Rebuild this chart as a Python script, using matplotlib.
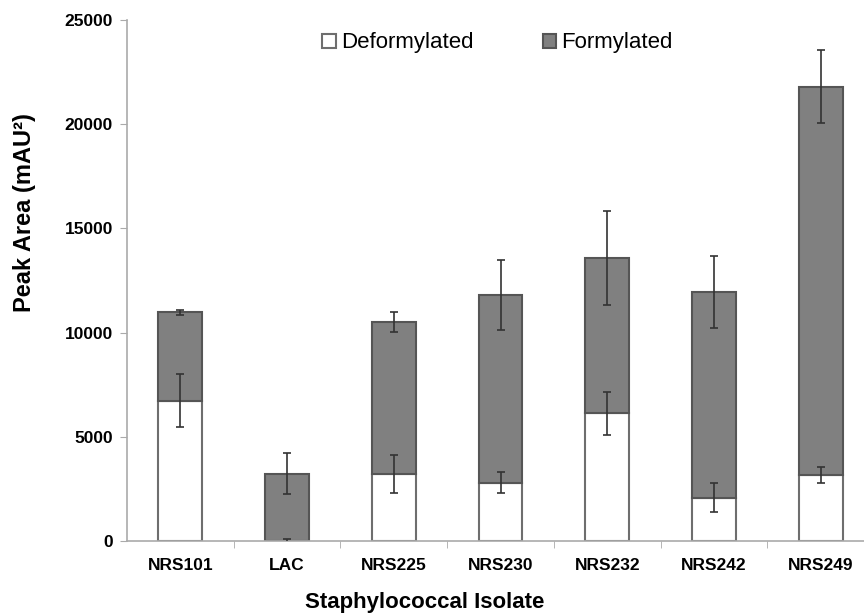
import matplotlib.pyplot as plt
import numpy as np

plt.rcParams['font.family'] = ['Liberation Sans', 'DejaVu Sans']

isolates = ['NRS101', 'LAC', 'NRS225', 'NRS230', 'NRS232', 'NRS242', 'NRS249']
deformylated = [6730, 0, 3200, 2790, 6120, 2070, 3160]
deformylated_err = [1270, 100, 910, 500, 1010, 690, 390]
formylated = [4240, 3235, 7320, 9015, 7460, 9895, 18640]
total_err = [130, 980, 470, 1680, 2240, 1730, 1750]

x = np.arange(len(isolates))
totals = np.array(deformylated) + np.array(formylated)

fig = plt.figure(figsize=(8.64, 6.13), dpi=100)
# right edge runs past the figure, as in the cropped original
ax = fig.add_axes([127 / 864, 72 / 613, 747 / 864, 521 / 613])

w = 0.41
ax.bar(x, deformylated, w, color='white', edgecolor='#6e6e6e', linewidth=1.5,
       label='Deformylated', zorder=2)
ax.bar(x, formylated, w, bottom=deformylated, color='#808080', edgecolor='#555555',
       linewidth=1.5, label='Formylated', zorder=2)

ax.errorbar(x, deformylated, yerr=deformylated_err, fmt='none', ecolor='#333333',
            elinewidth=1.2, capsize=3, capthick=1.2, zorder=4)
ax.errorbar(x, totals, yerr=total_err, fmt='none', ecolor='#333333',
            elinewidth=1.2, capsize=3, capthick=1.2, zorder=4)

ax.set_xlim(-0.5, 6.5)
ax.set_ylim(0, 25000)
ax.set_yticks(range(0, 25001, 5000))
ax.set_xticks(x)
ax.set_xticklabels(isolates, fontsize=12.5, fontweight='bold')
ax.set_xticks(np.arange(0.5, 6.5, 1), minor=True)
ax.tick_params(axis='x', which='major', length=0, pad=12)
ax.tick_params(axis='x', which='minor', length=5, color='#aaaaaa', direction='out')
ax.tick_params(axis='y', length=5, color='#aaaaaa', direction='out', pad=5)
for lbl in ax.get_yticklabels():
    lbl.set_fontsize(12.5)
    lbl.set_fontweight('bold')

for s in ['top', 'right']:
    ax.spines[s].set_visible(False)
for s in ['left', 'bottom']:
    ax.spines[s].set_color('#aaaaaa')
    ax.spines[s].set_linewidth(1.2)

ax.set_ylabel('Peak Area (mAU²)', fontsize=17, fontweight='bold')
ax.yaxis.set_label_coords(-0.122, 0.631)
ax.set_xlabel('Staphylococcal Isolate', fontsize=16, fontweight='bold')
ax.xaxis.set_label_coords(0.398, -0.097)

fig.legend(loc='center', bbox_to_anchor=(0.576, 0.93), ncol=2, frameon=False,
           fontsize=16, handlelength=0.6, handleheight=0.6, handletextpad=0.25,
           columnspacing=3.1)

plt.savefig('out.png', dpi=100)
